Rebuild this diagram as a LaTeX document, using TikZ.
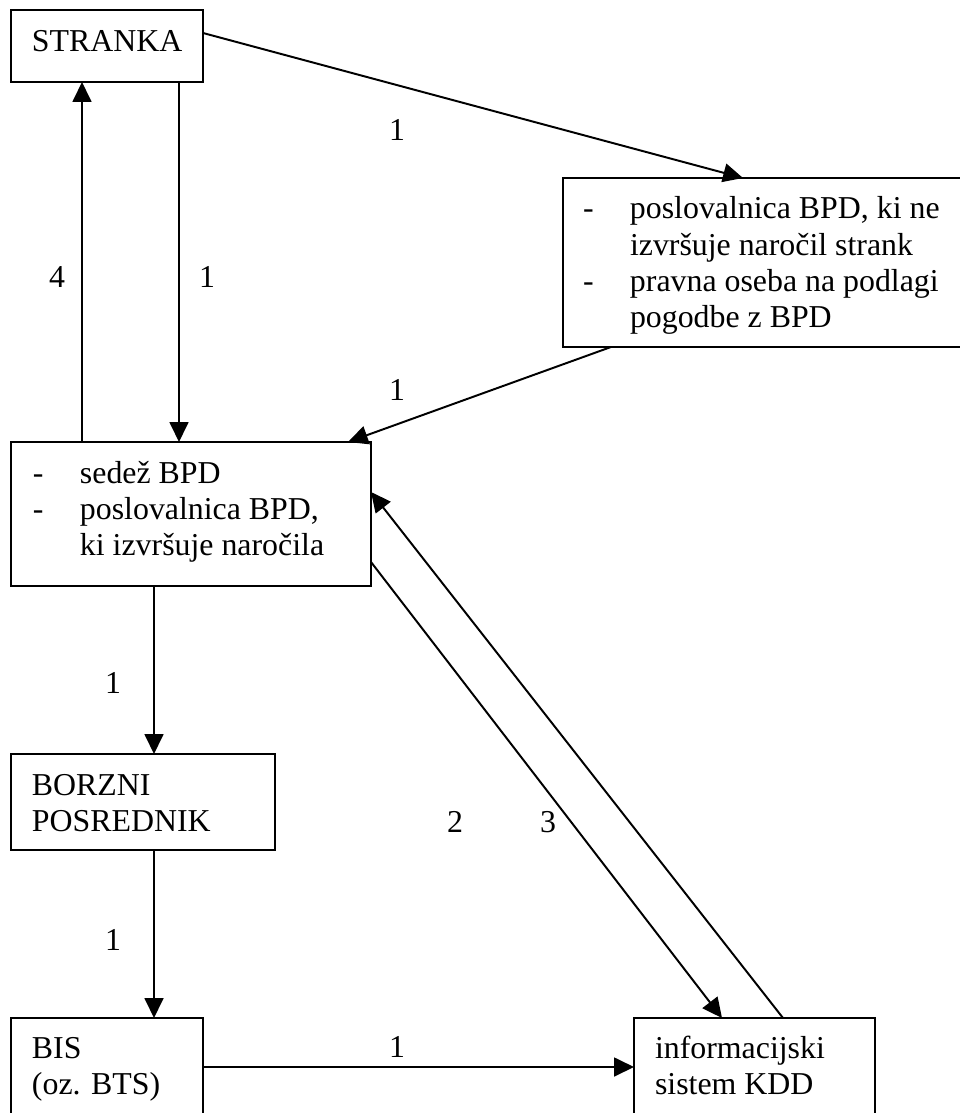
\documentclass[tikz,border=0pt]{standalone}
\usepackage{fontspec}
\setmainfont{Liberation Serif}
\usetikzlibrary{arrows.meta, calc}
\newdimen\px \px=0.383pt
% dash column of a list item
\newcommand{\crta}{\makebox[47\px][l]{-}}

\begin{document}
\begin{tikzpicture}[x=0.383pt, y=-0.383pt,
    okvir/.style={draw, line width=0.8pt, inner sep=0pt, outer sep=0pt, anchor=north west, font=\fontsize{12.2}{13.8}\selectfont},
    puscica/.style={line width=0.75pt, -{Triangle[length=7.6pt, width=7.2pt]}},
    oznaka/.style={font=\fontsize{12.2}{13.8}\selectfont, inner sep=1pt}]

\useasboundingbox (0,0) rectangle (960,1113);

% Boxes
\node[okvir] (stranka) at (11,10) {\parbox[c][72\px][t]{192\px}{\rule{0pt}{42\px}\hspace*{21\px}STRANKA}};
\node[okvir] (podlaga) at (563,178) {\parbox[c][169\px][t]{420\px}{\rule{0pt}{41\px}\hspace*{20\px}\crta poslovalnica BPD, ki ne\\
    \hspace*{67\px}izvršuje naročil strank\\
    \hspace*{20\px}\crta pravna oseba na podlagi\\
    \hspace*{67\px}pogodbe z BPD}};
\node[okvir] (sedez) at (11,442) {\parbox[c][144\px][t]{360\px}{\rule{0pt}{41\px}\hspace*{22\px}\crta sedež BPD\\
    \hspace*{22\px}\crta poslovalnica BPD,\\
    \hspace*{69\px}ki izvršuje naročila}};
\node[okvir] (borzni) at (11,754) {\parbox[c][96\px][t]{264\px}{\rule{0pt}{41\px}\hspace*{21\px}BORZNI\\
    \hspace*{21\px}POSREDNIK}};
\node[okvir] (bis) at (11,1018) {\parbox[c][120\px][t]{192\px}{\rule{0pt}{40\px}\hspace*{21\px}BIS\\
    \hspace*{21\px}(oz. BTS)}};
\node[okvir] (kdd) at (634,1018) {\parbox[c][120\px][t]{241\px}{\rule{0pt}{40\px}\hspace*{21\px}informacijski\\
    \hspace*{21\px}sistem KDD}};

% Connectors
\draw[puscica] ($(stranka.north east)+(0,23)$) -- ($(podlaga.north west)+(180,0)$);
\draw[puscica] ($(stranka.south west)+(168,0)$) -- ($(sedez.north west)+(168,0)$);
\draw[puscica] ($(sedez.north west)+(71,0)$) -- ($(stranka.south west)+(71,0)$);
\draw[puscica] ($(podlaga.south west)+(48,0)$) -- ($(sedez.north east)+(-23,0)$);
\draw[puscica] ($(sedez.north east)+(0,120)$) -- ($(kdd.north west)+(88,0)$);
\draw[puscica] ($(kdd.north west)+(149,0)$) -- ($(sedez.north east)+(0,50)$);
\draw[puscica] ($(sedez.south west)+(143,0)$) -- ($(borzni.north west)+(143,0)$);
\draw[puscica] ($(borzni.south west)+(143,0)$) -- ($(bis.north west)+(143,0)$);
\draw[puscica] ($(bis.north east)+(0,49)$) -- ($(kdd.north west)+(0,49)$);

% Labels
\node[oznaka] (o1) at (397,130) {1};
\node[oznaka] (o4) at (57,277) {4};
\node[oznaka] (o1b) at (207,277) {1};
\node[oznaka] (o1c) at (397,390) {1};
\node[oznaka] (o1d) at (113,683) {1};
\node[oznaka] (o1e) at (113,940) {1};
\node[oznaka] (o2) at (455,822) {2};
\node[oznaka] (o3) at (548,822) {3};
\node[oznaka] (o1f) at (397,1047) {1};

\end{tikzpicture}
\end{document}
